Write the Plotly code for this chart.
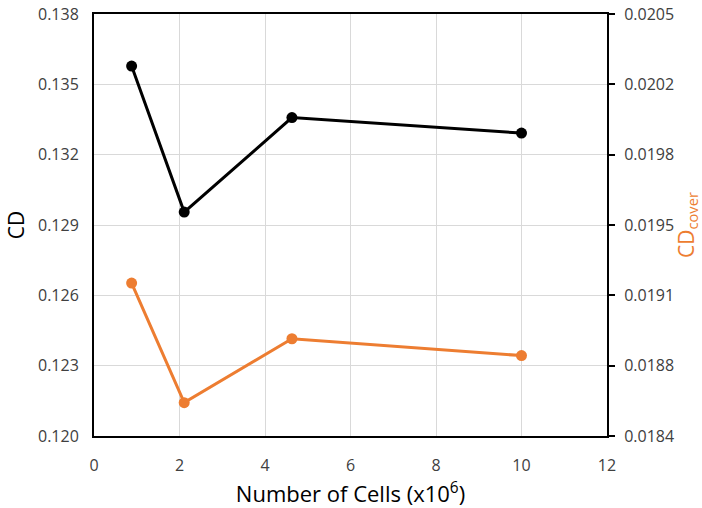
import plotly.graph_objects as go

# Mesh sizes (millions of cells) and drag coefficients
cells = [0.88, 2.11, 4.63, 10.0]
cd_total = [0.13578, 0.12955, 0.13358, 0.13292]
cd_cover = [0.019161, 0.018566, 0.018884, 0.018800]

left_ticks = [0.120, 0.123, 0.126, 0.129, 0.132, 0.135, 0.138]
left_labels = ["0.120", "0.123", "0.126", "0.129", "0.132", "0.135", "0.138"]
right_ticks = [0.0184, 0.01875, 0.0191, 0.01945, 0.0198, 0.02015, 0.0205]
right_labels = ["0.0184", "0.0188", "0.0191", "0.0195", "0.0198", "0.0202", "0.0205"]
x_ticks = [0, 2, 4, 6, 8, 10, 12]

FONT = "Open Sans, Liberation Sans, sans-serif"
TICK_COLOR = "#404040"
ORANGE = "#ED7D31"

fig = go.Figure()
fig.add_trace(go.Scatter(
    x=cells, y=cd_total, mode="lines+markers", name="CD",
    line=dict(color="black", width=3),
    marker=dict(color="black", size=11),
))
fig.add_trace(go.Scatter(
    x=cells, y=cd_cover, mode="lines+markers", name="CD cover", yaxis="y2",
    line=dict(color=ORANGE, width=3),
    marker=dict(color=ORANGE, size=11),
))

fig.update_layout(
    width=702, height=508,
    margin=dict(l=94, r=95, t=14, b=72),
    paper_bgcolor="white", plot_bgcolor="white",
    showlegend=False,
    font=dict(family=FONT),
    xaxis=dict(
        range=[0, 12], tickvals=x_ticks, ticks="",
        showgrid=True, gridcolor="#D9D9D9", gridwidth=1,
        showline=True, linecolor="black", linewidth=2, mirror=True,
        zeroline=False, ticklabelstandoff=14, automargin=False,
        tickfont=dict(size=16, color=TICK_COLOR),
        title=dict(text="Number of Cells (x10<sup>6</sup>)",
                   font=dict(size=22, color="black"), standoff=12),
    ),
    yaxis=dict(
        range=[0.120, 0.138], tickvals=left_ticks, ticktext=left_labels, ticks="",
        showgrid=True, gridcolor="#D9D9D9", gridwidth=1,
        showline=True, linecolor="black", linewidth=2, mirror=True,
        zeroline=False, ticklabelstandoff=10, automargin=False,
        tickfont=dict(size=16, color=TICK_COLOR),
        title=dict(text="CD", font=dict(size=21, color="black"), standoff=8),
    ),
    yaxis2=dict(
        range=[0.0184, 0.0205], tickvals=right_ticks, ticktext=right_labels,
        overlaying="y", side="right",
        ticks="outside", ticklen=6, tickcolor="black", tickwidth=1.5,
        showgrid=False, zeroline=False, ticklabelstandoff=6, automargin=False,
        showline=True, linecolor="black", linewidth=2,
        tickfont=dict(size=16, color=TICK_COLOR),
        title=dict(text="CD<sub>cover</sub>", font=dict(size=21, color=ORANGE), standoff=6),
    ),
)

fig.write_html("out.html")
